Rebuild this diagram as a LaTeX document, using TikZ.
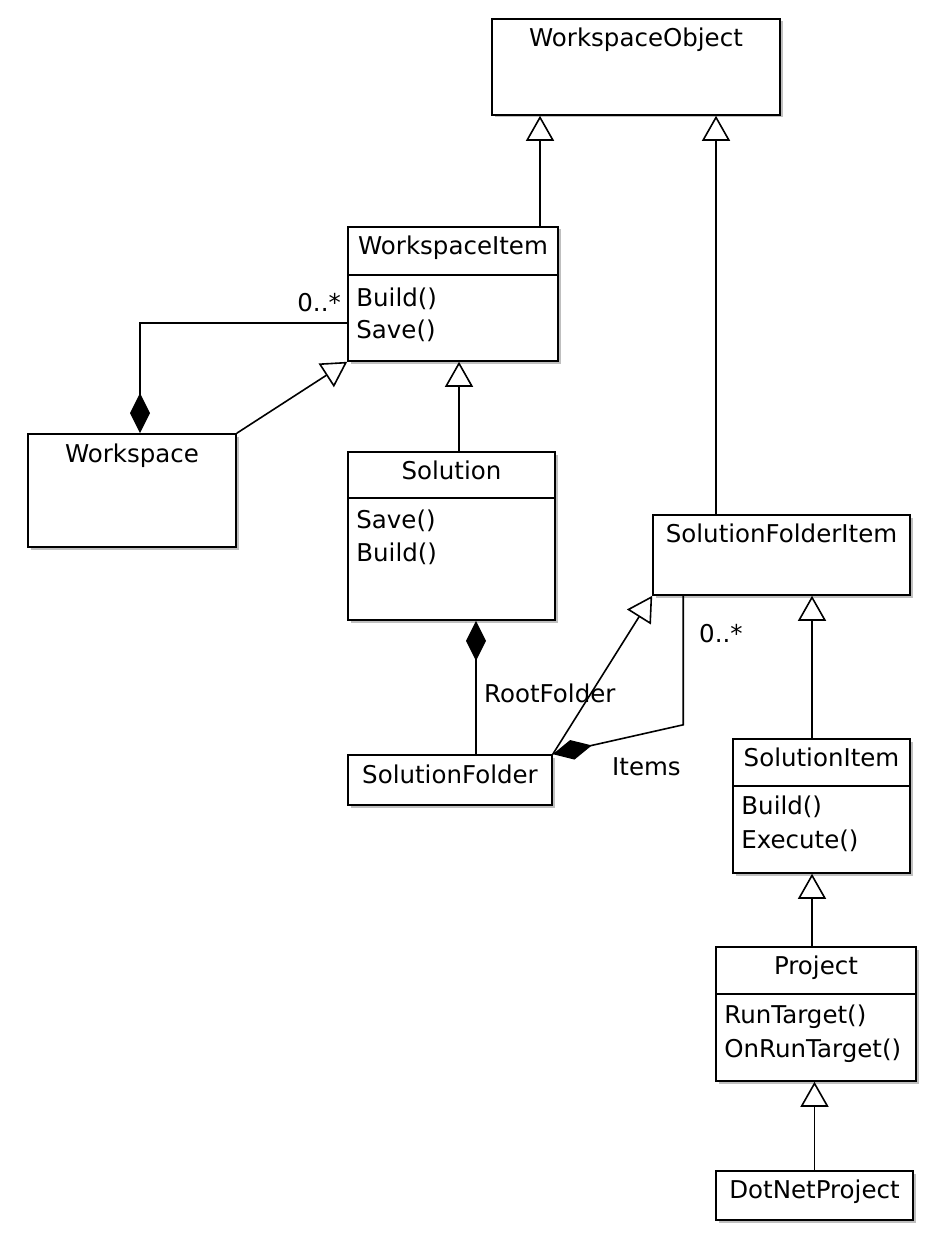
\documentclass[tikz,border=0pt]{standalone}
\usepackage{fontspec}
\setmainfont{DejaVu Sans}
\usetikzlibrary{arrows.meta,shadows,calc}
\begin{document}
\begin{tikzpicture}[x=1pt,y=-1pt,
  box/.style={draw=black,line width=1.6pt,fill=white,inner sep=0pt,
    drop shadow={shadow xshift=2.5pt,shadow yshift=-2.5pt,fill=black,opacity=0.25}},
  txt/.style={font=\fontsize{24.5}{30}\selectfont,inner sep=0pt},
  title/.style={txt,anchor=base},
  meth/.style={txt,anchor=base west},
  lbl/.style={txt},
  div/.style={line width=1.6pt},
  gen/.style={line width=1.6pt,-{Triangle[open,length=25pt,width=28pt,fill=white]}},
  comp/.style={line width=1.6pt,{Diamond[length=40pt,width=20pt]}-}
]
\useasboundingbox[fill=white] (0,0) rectangle (940,1249);

% boxes
\node[box,minimum width=288pt,minimum height=96pt] (wso) at (636,67) {};
\node[box,minimum width=210pt,minimum height=134pt] (wsi) at (453,294) {};
\node[box,minimum width=208pt,minimum height=113pt] (ws) at (132,490.5) {};
\node[box,minimum width=207pt,minimum height=168pt] (sol) at (451.5,536) {};
\node[box,minimum width=257pt,minimum height=80pt] (sfi) at (781.5,555) {};
\node[box,minimum width=204pt,minimum height=50pt] (sf) at (450,780) {};
\node[box,minimum width=177pt,minimum height=134pt] (si) at (821.5,806) {};
\node[box,minimum width=200pt,minimum height=134pt] (prj) at (816,1014) {};
\node[box,minimum width=197pt,minimum height=49pt] (dnp) at (814.5,1195.5) {};

% titles
\node[title] (twso) at ([yshift=-28pt]wso.north) {WorkspaceObject};
\node[title] (twsi) at ([yshift=-28pt]wsi.north) {WorkspaceItem};
\node[title] (tws) at ([yshift=-29pt]ws.north) {Workspace};
\node[title] (tsol) at ([yshift=-28pt]sol.north) {Solution};
\node[title] (tsfi) at ([yshift=-28pt]sfi.north) {SolutionFolderItem};
\node[title] (tsf) at ([yshift=-29pt]sf.north) {SolutionFolder};
\node[title] (tsi) at ([yshift=-28pt]si.north) {SolutionItem};
\node[title] (tprj) at ([yshift=-28pt]prj.north) {Project};
\node[title] (tdnp) at ([yshift=-28pt]dnp.north) {DotNetProject};

% dividers
\draw[div] ([yshift=-49pt]wsi.north west) -- ([yshift=-49pt]wsi.north east);
\draw[div] ([yshift=-47pt]sol.north west) -- ([yshift=-47pt]sol.north east);
\draw[div] ([yshift=-48pt]si.north west) -- ([yshift=-48pt]si.north east);
\draw[div] ([yshift=-48pt]prj.north west) -- ([yshift=-48pt]prj.north east);

% methods
\node[meth] (m1) at ([xshift=9pt,yshift=-80pt]wsi.north west) {Build()};
\node[meth] (m2) at ([xshift=9pt,yshift=-112pt]wsi.north west) {Save()};
\node[meth] (m3) at ([xshift=9pt,yshift=-77pt]sol.north west) {Save()};
\node[meth] (m4) at ([xshift=9pt,yshift=-110pt]sol.north west) {Build()};
\node[meth] (m5) at ([xshift=9pt,yshift=-76pt]si.north west) {Build()};
\node[meth] (m6) at ([xshift=9pt,yshift=-110pt]si.north west) {Execute()};
\node[meth] (m7) at ([xshift=9pt,yshift=-77pt]prj.north west) {RunTarget()};
\node[meth] (m8) at ([xshift=9pt,yshift=-111pt]prj.north west) {OnRunTarget()};

% generalizations
\draw[gen] ([xshift=87pt]wsi.north) -- ([xshift=87pt]wsi.north |- wso.south);
\draw[gen] ([xshift=-65.5pt]sfi.north) -- ([xshift=-65.5pt]sfi.north |- wso.south);
\draw[gen] ([xshift=7.5pt]sol.north) -- ([xshift=7.5pt]sol.north |- wsi.south);
\draw[gen] (ws.north east) -- (wsi.south west);
\draw[gen] (sf.north east) -- (sfi.south west);
\draw[gen] ([xshift=-9.5pt]si.north) -- ([xshift=-9.5pt]si.north |- sfi.south);
\draw[gen] ([xshift=-4pt]prj.north) -- ([xshift=-4pt]prj.north |- si.south);
\draw[gen] (dnp.north) -- (dnp.north |- prj.south);

% compositions
\draw[comp] ([xshift=8pt]ws.north) |- ([yshift=-29pt]wsi.west);
\draw[comp] ([xshift=24.5pt]sol.south) -- ([xshift=24.5pt]sol.south |- sf.north);
\draw[comp] (sf.north east) -- ([xshift=31pt,yshift=-129pt]sfi.south west) -- ([xshift=31pt]sfi.south west);

% labels
\node[lbl,anchor=base east] (l1) at (341,311) {0..*};
\node[lbl,anchor=base west] (l2) at (484,702) {RootFolder};
\node[lbl,anchor=base west] (l3) at (699,642) {0..*};
\node[lbl,anchor=base west] (l4) at (612,775) {Items};
\end{tikzpicture}
\end{document}
